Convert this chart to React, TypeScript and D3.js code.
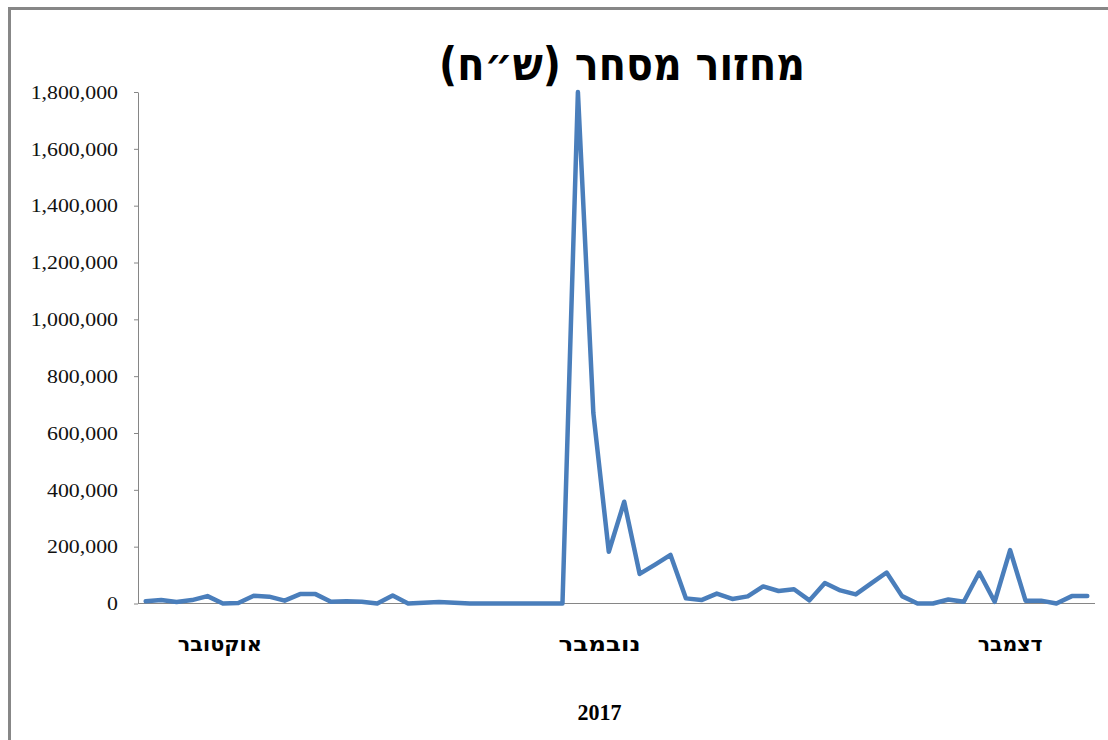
import React, { useEffect, useRef } from 'react'
import * as d3 from 'd3'

// Chart data
const title = 'מחזור מסחר (ש״ח)'
const yearLabel = '2017'
const monthLabels = ['אוקטובר', 'נובמבר', 'דצמבר']
// category (trading day) index each month label is centred on
const monthLabelAt = [4.8, 29.4, 56]
const yTicks = [0, 200000, 400000, 600000, 800000, 1000000, 1200000, 1400000, 1600000, 1800000]

// daily turnover, one value per trading day
const turnover = [
    8000, 12000, 5000, 12000, 26000, 0, 2000, 27000, 24000, 10000,
    33000, 33000, 6000, 8000, 6000, 0, 28000, 0, 3000, 5000,
    3000, 0, 0, 0, 0, 0, 0, 0, 1800000, 670000,
    182000, 358000, 104000, 137000, 171000, 18000, 12000, 35000, 16000, 25000,
    60000, 44000, 50000, 11000, 72000, 46000, 32000, 71000, 109000, 26000,
    0, 0, 14000, 6000, 109000, 6000, 188000, 10000, 10000, 0,
    26000, 26000,
]
const days = turnover.map((_, i) => i)

const W = 1108
const H = 740
const plot = { left: 138, right: 1095, top: 92, bottom: 603.5 }

// stretch a text node horizontally so it spans `width` px, centred on cx
function fitText(sel: d3.Selection<SVGTextElement, any, any, any>, cx: number, cy: number, width: number) {
    const node = sel.node()
    if (!node) return
    const w = node.getComputedTextLength() || width
    sel.attr('x', 0).attr('y', 0)
        .attr('transform', `translate(${cx},${cy}) scale(${width / w},1)`)
}

function App() {
    const ref = useRef<SVGSVGElement>(null)

    useEffect(() => {
        const svg = d3.select(ref.current)
        svg.selectAll('*').remove()

        // outer chart frame (only left and top edges are visible)
        svg.append('path')
            .attr('d', `M9.5,${H} V8.5 H${W}`)
            .attr('fill', 'none')
            .attr('stroke', '#878787')
            .attr('stroke-width', 3)

        const x = d3.scaleLinear()
            .domain([-0.5, days.length - 0.5])
            .range([plot.left, plot.right])
        const y = d3.scaleLinear()
            .domain([0, 1800000])
            .range([plot.bottom, plot.top])

        // Y axis
        const sx = 1.15
        const yAxis = svg.append('g')
            .attr('transform', `translate(${plot.left},0)`)
            .call(d3.axisLeft(y).tickValues(yTicks).tickFormat(d3.format(',')).tickSize(4).tickSizeOuter(0))
        yAxis.select('.domain').attr('stroke', '#868686')
        yAxis.selectAll('.tick line').attr('stroke', '#868686')
        yAxis.selectAll('.tick text')
            .attr('x', -20 / sx)
            .attr('dy', '0.33em')
            .attr('transform', `scale(${sx},1)`)
            .attr('font-family', '"Liberation Serif", "Times New Roman", serif')
            .attr('font-size', 19)
            .attr('fill', '#111')

        // X axis line
        svg.append('line')
            .attr('x1', plot.left).attr('x2', plot.right)
            .attr('y1', y(0)).attr('y2', y(0))
            .attr('stroke', '#868686')

        // series line
        const line = d3.line<number>()
            .x((_, i) => x(days[i]))
            .y(d => y(d))
        svg.append('path')
            .datum(turnover)
            .attr('d', line)
            .attr('fill', 'none')
            .attr('stroke', '#4A7EBB')
            .attr('stroke-width', 4.5)
            .attr('stroke-linejoin', 'round')
            .attr('stroke-linecap', 'round')

        // month labels
        const widths = [84, 82, 65]
        monthLabels.forEach((m, i) => {
            const t = svg.append('text')
                .attr('text-anchor', 'middle')
                .attr('direction', 'rtl')
                .attr('font-family', '"DejaVu Sans", sans-serif')
                .attr('font-weight', 'bold')
                .attr('font-size', 20)
                .text(m)
            fitText(t, x(monthLabelAt[i]), 651, widths[i])
        })

        const yr = svg.append('text')
            .attr('text-anchor', 'middle')
            .attr('font-family', '"Liberation Serif", serif')
            .attr('font-weight', 'bold')
            .attr('font-size', 24)
            .text(yearLabel)
        fitText(yr, x(29.4), 720, 44)

        const tt = svg.append('text')
            .attr('text-anchor', 'middle')
            .attr('direction', 'rtl')
            .attr('font-family', '"DejaVu Sans", sans-serif')
            .attr('font-weight', 'bold')
            .attr('font-size', 46)
            .text(title)
        fitText(tt, 622, 80, 366)
    }, [])

    return (
        <svg
            ref={ref}
            width={W}
            height={H}
            style={{ position: 'absolute', left: 0, top: 0, background: '#fff' }}
        />
    )
}

export default App
